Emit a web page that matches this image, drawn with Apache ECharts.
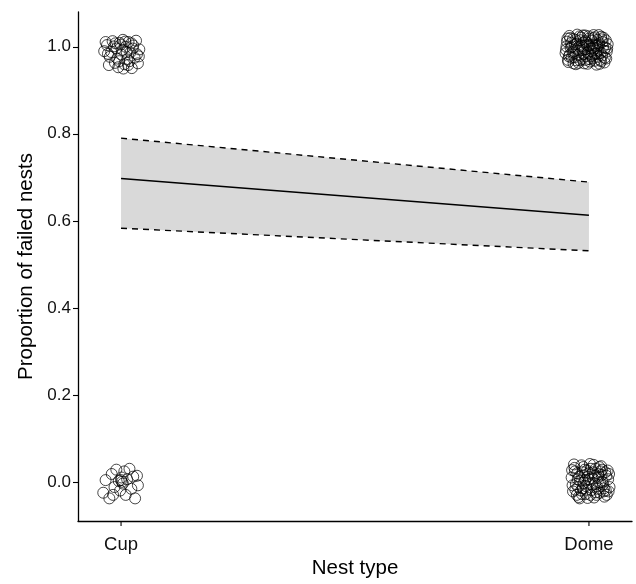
<!DOCTYPE html>
<html>
<head>
<meta charset="utf-8">
<script src="https://cdn.jsdelivr.net/npm/echarts@6/dist/echarts.min.js"></script>
<style>html,body{margin:0;padding:0;background:#fff;}#c{width:636px;height:584px;}</style>
</head>
<body>
<div id="c"></div>
<script>
var categories = ['Cup', 'Dome'];
var catPos = [1, 2];
var fitLine = [0.697, 0.613];
var ciLower = [0.583, 0.531];
var ciUpper = [0.790, 0.689];
var yTicks = [0, 0.2, 0.4, 0.6, 0.8, 1.0];

var cupFailed = [[0.964,0.990],[0.970,1.004],[0.976,0.977],[0.982,1.013],[0.987,0.963],[0.990,0.996],[0.994,0.953],[0.997,1.009],[1.001,0.982],[1.004,1.016],[1.007,0.960],[1.010,1.000],[1.013,0.971],[1.016,1.011],[1.020,0.987],[1.023,0.951],[1.026,1.003],[1.029,0.975],[1.032,1.014],[1.036,0.962],[1.039,0.994],[0.967,1.011],[0.974,0.958],[0.985,1.001],[0.992,0.973],[0.999,1.005],[1.005,0.950],[1.012,0.988],[1.018,0.967],[1.025,0.996],[1.034,0.983],[0.979,0.988],[1.009,1.012],[0.996,0.967],[0.972,0.984],[0.988,1.008],[1.003,0.993],[1.015,0.958],[1.022,1.008],[1.038,0.978]];
var cupSuccess = [[0.962,-0.025],[0.967,0.004],[0.975,-0.038],[0.980,0.018],[0.986,-0.012],[0.990,0.028],[0.995,0.002],[0.998,-0.020],[1.001,0.010],[1.004,-0.004],[1.007,0.024],[1.010,-0.030],[1.013,0.006],[1.018,0.030],[1.022,-0.016],[1.026,0.012],[1.030,-0.038],[1.034,0.014],[1.036,-0.008],[0.983,-0.030],[1.000,0.004],[1.002,0.000]];
var domeFailed = [[1.950,0.985],[1.953,1.012],[1.956,0.965],[1.958,1.025],[1.961,0.998],[1.963,0.975],[1.966,1.018],[1.968,0.990],[1.970,1.006],[1.972,0.960],[1.975,1.028],[1.977,0.981],[1.979,1.001],[1.981,0.969],[1.983,1.021],[1.986,0.993],[1.988,1.010],[1.990,0.962],[1.992,1.026],[1.994,0.978],[1.996,1.004],[1.998,0.987],[2.000,1.019],[2.002,0.966],[2.004,0.996],[2.006,1.014],[2.008,0.973],[2.010,1.027],[2.012,0.984],[2.014,1.003],[2.016,0.959],[2.018,1.016],[2.020,0.992],[2.022,1.008],[2.024,0.970],[2.026,1.023],[2.028,0.980],[2.030,1.000],[2.033,0.964],[2.036,1.015],[2.038,0.989],[2.040,1.006],[1.952,1.001],[1.957,0.978],[1.962,1.009],[1.967,0.962],[1.971,1.016],[1.976,0.996],[1.980,1.024],[1.985,0.972],[1.989,0.983],[1.993,1.013],[1.997,0.961],[2.001,1.002],[2.005,0.979],[2.009,1.020],[2.013,0.968],[2.017,0.997],[2.021,1.027],[2.025,0.986],[2.029,1.011],[2.034,0.975],[2.039,0.996],[1.955,0.970],[1.960,1.020],[1.965,0.988],[1.974,1.007],[1.978,0.963],[1.984,1.002],[1.991,0.994],[1.999,1.024],[2.003,0.983],[2.011,0.995],[2.019,0.977],[2.027,1.017],[2.032,0.991],[1.969,0.976],[1.987,1.026],[2.007,1.005],[2.023,0.961],[1.951,0.993],[1.954,1.019],[1.959,0.982],[1.964,1.001],[1.973,0.969],[1.982,1.015],[1.988,0.998],[1.995,1.010],[2.000,0.972],[2.006,0.990],[2.012,1.022],[2.015,0.985],[2.021,1.004],[2.026,0.967],[2.031,1.021],[2.035,0.998],[2.037,0.973],[1.978,0.991],[1.993,0.970],[2.009,0.999]];
var domeSuccess = [[1.963,0.010],[1.966,-0.022],[1.969,0.032],[1.972,-0.005],[1.975,0.020],[1.978,-0.035],[1.981,0.002],[1.984,0.038],[1.987,-0.015],[1.990,0.015],[1.993,-0.028],[1.996,0.026],[1.999,-0.002],[2.002,0.041],[2.005,-0.019],[2.008,0.008],[2.011,-0.036],[2.014,0.030],[2.017,-0.010],[2.020,0.018],[2.023,-0.025],[2.026,0.036],[2.029,0.000],[2.032,-0.015],[2.035,0.022],[2.038,-0.030],[2.041,0.006],[2.044,-0.012],[1.965,-0.008],[1.970,0.024],[1.974,-0.030],[1.979,0.012],[1.983,-0.020],[1.988,0.034],[1.992,0.004],[1.997,-0.037],[2.001,0.020],[2.006,-0.006],[2.010,0.039],[2.015,-0.024],[2.019,0.010],[2.024,-0.002],[2.028,0.028],[2.033,-0.034],[2.037,0.014],[2.042,-0.022],[1.968,0.040],[1.977,-0.012],[1.986,0.022],[1.995,-0.018],[2.004,0.030],[2.013,-0.004],[2.022,0.034],[2.031,-0.022],[2.040,0.026],[1.980,-0.038],[1.998,0.012],[2.016,-0.030],[2.027,0.016],[1.989,-0.002],[1.964,0.027],[1.971,-0.018],[1.976,0.006],[1.985,-0.028],[1.991,0.028],[1.994,-0.010],[2.000,0.006],[2.003,-0.030],[2.009,0.022],[2.012,0.014],[2.018,-0.016],[2.025,0.024],[2.030,-0.006],[2.036,-0.020],[2.043,0.018]];

var FONT = '"Liberation Sans", Arial, Helvetica, sans-serif';
var chart = echarts.init(document.getElementById('c'), null, {renderer: 'canvas'});

function pairs(ys) { return catPos.map(function (x, i) { return [x, ys[i]]; }); }

var bandData = catPos.map(function (x, i) { return [x, ciLower[i], ciUpper[i]]; });

var scatterStyle = {color: 'rgba(0,0,0,0)', borderColor: '#000', borderWidth: 0.9};

var option = {
  backgroundColor: '#fff',
  animation: false,
  grid: {left: 78, right: 4, top: 12, bottom: 58, containLabel: false},
  xAxis: {
    type: 'value', min: 0.908, max: 2.092,
    name: 'Nest type', nameLocation: 'middle', nameGap: 37,
    nameTextStyle: {fontFamily: FONT, fontSize: 20.5, color: '#000'},
    splitLine: {show: false},
    axisLine: {show: true, onZero: false, lineStyle: {color: '#000', width: 1.3}},
    axisTick: {show: false},
    axisLabel: {show: false}
  },
  yAxis: {
    type: 'value', min: -0.09, max: 1.08,
    name: 'Proportion of failed nests', nameLocation: 'middle', nameGap: 41,
    nameTextStyle: {fontFamily: FONT, fontSize: 20.5, color: '#000'},
    splitLine: {show: false},
    axisLine: {show: true, onZero: false, lineStyle: {color: '#000', width: 1.3}},
    axisTick: {show: true, length: 5, customValues: yTicks, lineStyle: {color: '#000', width: 1.1}},
    axisLabel: {show: true, customValues: yTicks, margin: 7, fontFamily: FONT, fontSize: 17, color: '#111',
      formatter: function (v) { return v.toFixed(1); }}
  },
  series: [
    {
      type: 'custom', z: 1, silent: true,
      data: bandData,
      renderItem: function (params, api) {
        if (params.dataIndex !== 0) return null;
        var pts = [];
        for (var i = 0; i < bandData.length; i++) pts.push(api.coord([bandData[i][0], bandData[i][2]]));
        for (var j = bandData.length - 1; j >= 0; j--) pts.push(api.coord([bandData[j][0], bandData[j][1]]));
        return {type: 'polygon', shape: {points: pts}, style: {fill: '#d9d9d9', stroke: null}};
      }
    },
    {type: 'line', z: 3, data: pairs(fitLine), symbol: 'none', lineStyle: {color: '#000', width: 1.5}},
    {type: 'line', z: 3, data: pairs(ciUpper), symbol: 'none', lineStyle: {color: '#000', width: 1.4, type: [6, 5]}},
    {type: 'line', z: 3, data: pairs(ciLower), symbol: 'none', lineStyle: {color: '#000', width: 1.4, type: [6, 5]}},
    {type: 'scatter', z: 4, data: cupFailed, symbol: 'circle', symbolSize: 11, itemStyle: scatterStyle},
    {type: 'scatter', z: 4, data: cupSuccess, symbol: 'circle', symbolSize: 11, itemStyle: scatterStyle},
    {type: 'scatter', z: 4, data: domeFailed, symbol: 'circle', symbolSize: 11, itemStyle: scatterStyle},
    {type: 'scatter', z: 4, data: domeSuccess, symbol: 'circle', symbolSize: 11, itemStyle: scatterStyle}
  ],
  graphic: []
};
chart.setOption(option);

// category ticks and labels on the x axis, placed through the axis scale
function addCatLabels() {
  var g = [];
  categories.forEach(function (name, i) {
    var p = chart.convertToPixel({gridIndex: 0}, [catPos[i], -0.09]);
    g.push({type: 'line', shape: {x1: p[0], y1: p[1], x2: p[0], y2: p[1] + 5}, style: {stroke: '#000', lineWidth: 1.1}, z: 10});
    g.push({type: 'text', x: p[0], y: p[1] + 14, style: {text: name, fontFamily: FONT, fontSize: 18.5, fill: '#111', align: 'center', verticalAlign: 'top'}, z: 10});
  });
  chart.setOption({graphic: g});
}
addCatLabels();
</script>
</body>
</html>
